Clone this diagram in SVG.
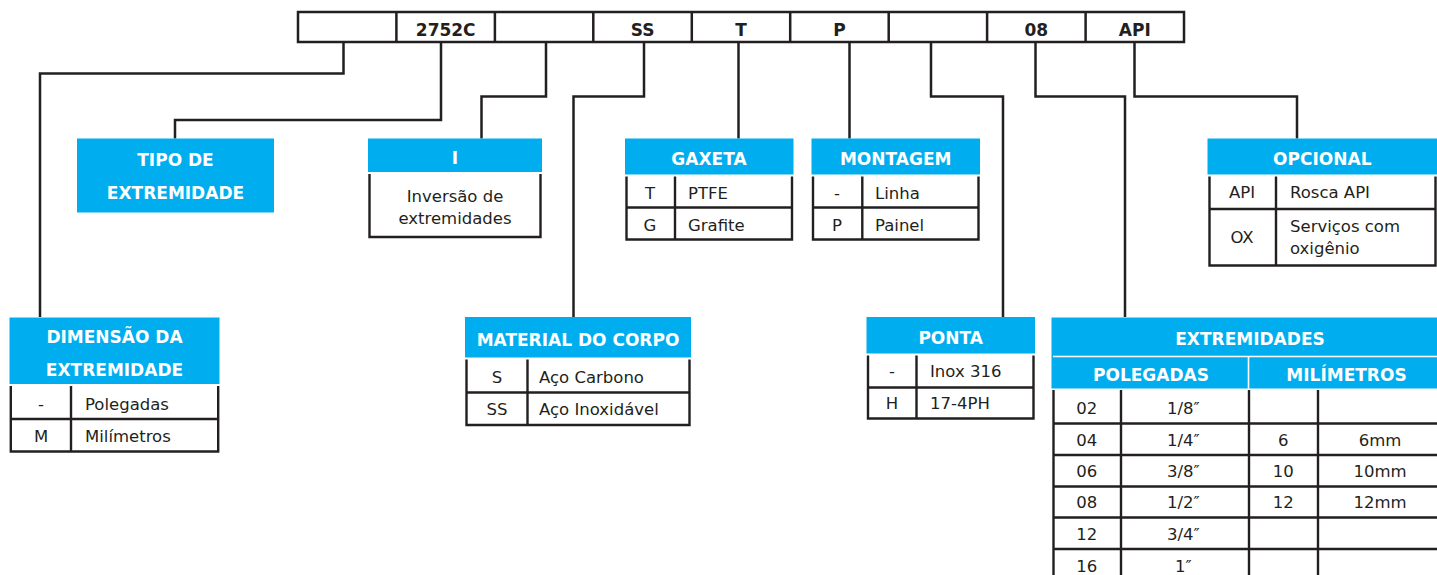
<svg xmlns="http://www.w3.org/2000/svg" width="1437" height="575" viewBox="0 0 1437 575">
<style>
.hdr{fill:#00aeef}
.ln{stroke:#231f20;stroke-width:2.5;fill:none;stroke-linecap:butt}
.tl{stroke:#231f20;stroke-width:2.4;fill:none}
.ht{font-family:"DejaVu Sans","Liberation Sans",sans-serif;font-weight:bold;font-size:17px;fill:#ffffff;text-anchor:middle}
.ct{font-family:"DejaVu Sans","Liberation Sans",sans-serif;font-weight:bold;font-size:17px;fill:#231f20;text-anchor:middle}
.bt{font-family:"DejaVu Sans","Liberation Sans",sans-serif;font-size:16.5px;fill:#231f20}
.c{text-anchor:middle}
</style>
<rect width="1437" height="575" fill="#ffffff"/>

<g id="code">
<rect x="298" y="12" width="886" height="30" class="ln"/>
<path class="ln" d="M396.4,12V42M494.9,12V42M593.3,12V42M691.8,12V42M790.2,12V42M888.7,12V42M987.1,12V42M1085.6,12V42"/>
<text class="ct" x="445.7" y="35.5">2752C</text>
<text class="ct" x="642.6" y="35.5">SS</text>
<text class="ct" x="741" y="35.5">T</text>
<text class="ct" x="839.4" y="35.5">P</text>
<text class="ct" x="1036.3" y="35.5">08</text>
<text class="ct" x="1134.8" y="35.5">API</text>
</g>

<g id="connectors" class="ln">
<path d="M343.5,42V73.5H40V317"/>
<path d="M441,42V120H175V138.5"/>
<path d="M546,42V96.5H481.5V138.5"/>
<path d="M644,42V96.5H573.5V317"/>
<path d="M738.5,42V138.5"/>
<path d="M849.5,42V138.5"/>
<path d="M931,42V96.5H1003V317"/>
<path d="M1035.5,42V96.5H1125V317"/>
<path d="M1134.5,42V96.5H1297V138.5"/>
</g>

<g id="dimensao">
<rect class="hdr" x="9.5" y="317.5" width="210" height="66.5"/>
<text class="ht" x="114.5" y="343">DIMENSÃO DA</text>
<text class="ht" x="114.5" y="376">EXTREMIDADE</text>
<path class="tl" d="M10.8,386V451.5H218.2V386M71,386V451.5M10.8,419H218.2"/>
<text class="bt c" x="41" y="410">-</text>
<text class="bt" x="85" y="410">Polegadas</text>
<text class="bt c" x="41" y="441.7">M</text>
<text class="bt" x="85" y="441.7">Milímetros</text>
</g>

<g id="tipo">
<rect class="hdr" x="77" y="138.5" width="197" height="74"/>
<text class="ht" x="175.5" y="165.7">TIPO DE</text>
<text class="ht" x="175.5" y="199.3">EXTREMIDADE</text>
</g>

<g id="inversao">
<rect class="hdr" x="368" y="138.5" width="174" height="33.5"/>
<text class="ht" x="455" y="164.3">I</text>
<path class="tl" d="M369.5,174V237H540.5V174"/>
<text class="bt c" x="455" y="201.7">Inversão de</text>
<text class="bt c" x="455" y="224.3">extremidades</text>
</g>

<g id="material">
<rect class="hdr" x="465" y="317" width="226" height="40.5"/>
<text class="ht" x="578" y="345.5">MATERIAL DO CORPO</text>
<path class="tl" d="M466.5,359.5V425H689.5V359.5M527.5,359.5V425M466.5,392.5H689.5"/>
<text class="bt c" x="497" y="383.3">S</text>
<text class="bt" x="539" y="383.3">Aço Carbono</text>
<text class="bt c" x="497" y="415">SS</text>
<text class="bt" x="539" y="415">Aço Inoxidável</text>
</g>

<g id="gaxeta">
<rect class="hdr" x="625" y="138.5" width="168.5" height="36"/>
<text class="ht" x="709" y="165">GAXETA</text>
<path class="tl" d="M626.5,176.5V239.5H792V176.5M675,176.5V239.5M626.5,207.5H792"/>
<text class="bt c" x="650" y="199">T</text>
<text class="bt" x="688" y="199">PTFE</text>
<text class="bt c" x="650" y="230.5">G</text>
<text class="bt" x="688" y="230.5">Grafite</text>
</g>

<g id="montagem">
<rect class="hdr" x="811.5" y="138.5" width="168.5" height="36"/>
<text class="ht" x="895.7" y="165">MONTAGEM</text>
<path class="tl" d="M813,176.5V239.5H978.5V176.5M862.3,176.5V239.5M813,207.5H978.5"/>
<text class="bt c" x="837" y="199">-</text>
<text class="bt" x="875" y="199">Linha</text>
<text class="bt c" x="837" y="230.5">P</text>
<text class="bt" x="875" y="230.5">Painel</text>
</g>

<g id="ponta">
<rect class="hdr" x="866.5" y="317" width="168.5" height="36.5"/>
<text class="ht" x="950.7" y="344">PONTA</text>
<path class="tl" d="M868,355.5V418.5H1033.5V355.5M916.5,355.5V418.5M868,387.5H1033.5"/>
<text class="bt c" x="892" y="377.3">-</text>
<text class="bt" x="930" y="377.3">Inox 316</text>
<text class="bt c" x="892" y="408.5">H</text>
<text class="bt" x="930" y="408.5">17-4PH</text>
</g>

<g id="extremidades">
<rect class="hdr" x="1051.5" y="317.5" width="386" height="71"/>
<path d="M1053,356.5H1437M1248.5,357V388.5" stroke="#ffffff" stroke-width="1.6" fill="none"/>
<text class="ht" x="1250" y="345">EXTREMIDADES</text>
<text class="ht" x="1151" y="381">POLEGADAS</text>
<text class="ht" x="1346.5" y="381">MILÍMETROS</text>
<path class="tl" d="M1053.5,390V575M1121,390V575M1249,390V575M1318,390V575M1053.5,423.5H1437M1053.5,455H1437M1053.5,486.5H1437M1053.5,517.5H1437M1053.5,549H1437"/>
<g class="bt c">
<text x="1086.7" y="414">02</text><text x="1183.3" y="414">1/8″</text>
<text x="1086.7" y="445.7">04</text><text x="1183.3" y="445.7">1/4″</text><text x="1283.3" y="445.7">6</text><text x="1380" y="445.7">6mm</text>
<text x="1086.7" y="476.7">06</text><text x="1183.3" y="476.7">3/8″</text><text x="1283.3" y="476.7">10</text><text x="1380" y="476.7">10mm</text>
<text x="1086.7" y="508.3">08</text><text x="1183.3" y="508.3">1/2″</text><text x="1283.3" y="508.3">12</text><text x="1380" y="508.3">12mm</text>
<text x="1086.7" y="540">12</text><text x="1183.3" y="540">3/4″</text>
<text x="1086.7" y="571.7">16</text><text x="1183.3" y="571.7">1″</text>
</g>
</g>

<g id="opcional">
<rect class="hdr" x="1207.5" y="138.5" width="229.5" height="36"/>
<text class="ht" x="1322.3" y="165">OPCIONAL</text>
<path class="tl" d="M1209.5,176.5V265.5H1435.5V176.5M1276,176.5V265.5M1209.5,209H1435.5"/>
<text class="bt c" x="1242" y="198.3">API</text>
<text class="bt" x="1290" y="198.3">Rosca API</text>
<text class="bt c" x="1242" y="243.3">OX</text>
<text class="bt" x="1290" y="231.7">Serviços com</text>
<text class="bt" x="1290" y="254">oxigênio</text>
</g>
</svg>
